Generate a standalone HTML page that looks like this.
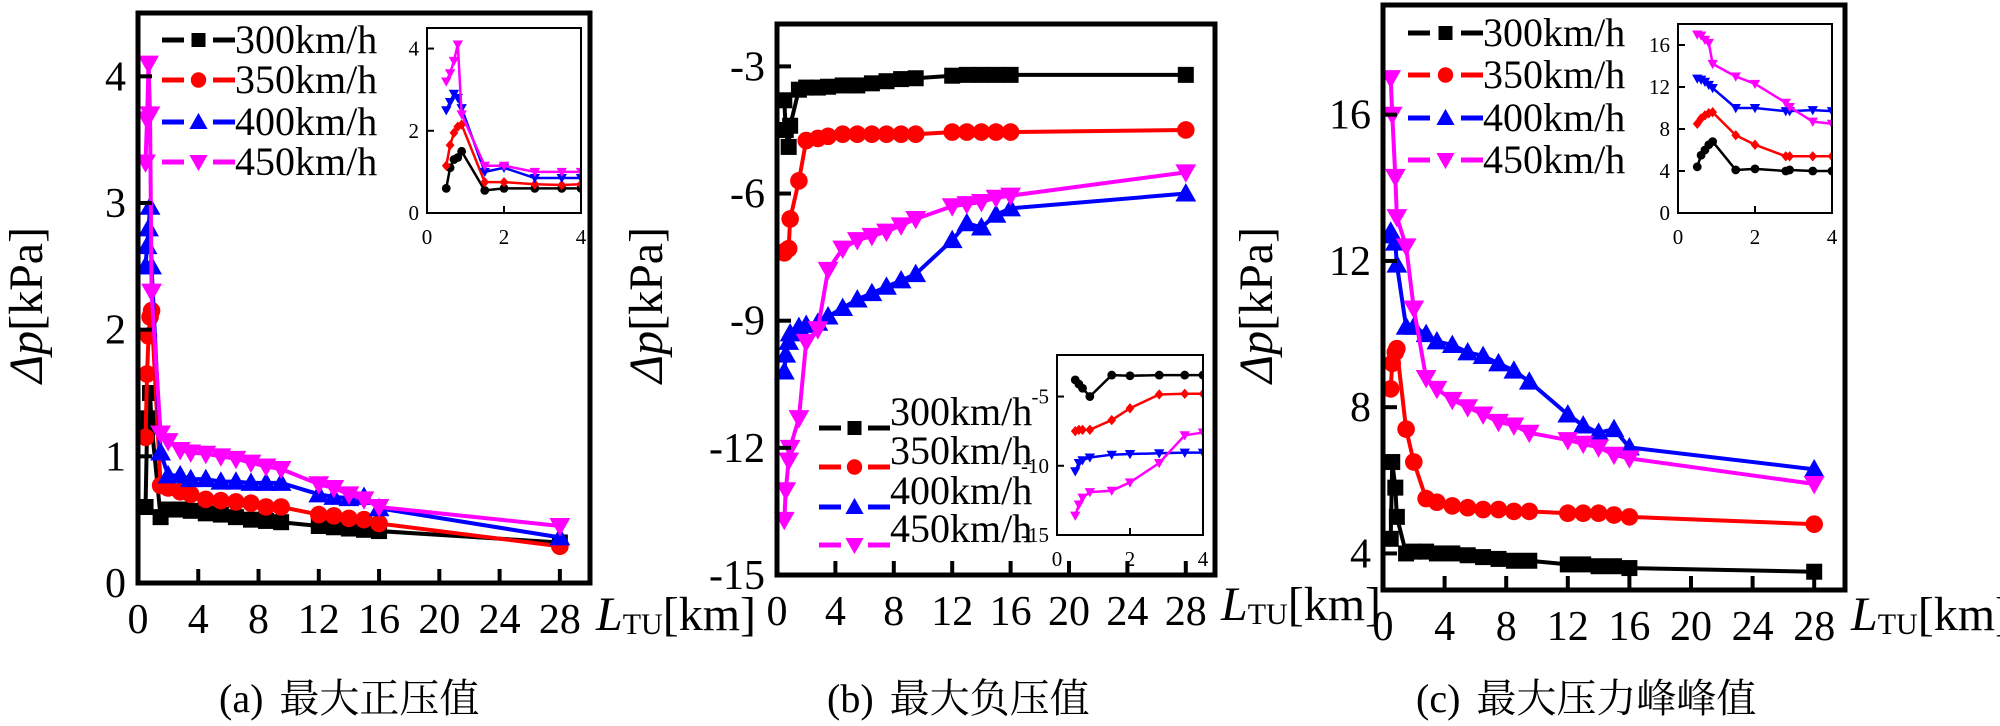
<!DOCTYPE html>
<html><head><meta charset="utf-8"><style>
html,body{margin:0;padding:0;background:#fff;}
svg{display:block;}
</style></head><body>
<svg id="fig" width="2000" height="726" viewBox="0 0 2000 726" xmlns="http://www.w3.org/2000/svg" style="font-family:'Liberation Serif','DejaVu Serif','Noto Serif CJK SC',serif;"></svg>
<script>
// ---------- data ----------
const seriesNames = ["300km/h","350km/h","400km/h","450km/h"];
// Panel (a) main
const xA = [0.5,0.6,0.7,0.8,0.9,1.5,2,2.8,3.5,4.5,5.5,6.5,7.5,8.5,9.5,12,13,14,15,16,28];
const a300 = [0.6,1.2,1.3,1.5,1.25,0.52,0.58,0.58,0.57,0.55,0.54,0.52,0.5,0.49,0.48,0.45,0.44,0.43,0.42,0.41,0.32];
const a350 = [1.15,1.65,1.95,2.1,2.15,0.77,0.75,0.72,0.7,0.66,0.65,0.64,0.63,0.6,0.6,0.54,0.53,0.51,0.5,0.47,0.29];
const a400 = [2.5,2.66,2.8,2.97,2.5,1.03,0.85,0.85,0.82,0.82,0.8,0.8,0.79,0.79,0.79,0.7,0.68,0.67,0.68,0.59,0.36];
const a450 = [3.32,3.66,4.1,3.7,2.3,1.18,1.12,1.05,1.03,1.02,1.0,0.98,0.95,0.92,0.9,0.78,0.75,0.7,0.66,0.6,0.45];
// Panel (a) inset
const xAi = [0.5,0.6,0.7,0.8,0.9,1.5,2,2.8,3.5,4];
const ai300 = [0.6,1.1,1.3,1.35,1.5,0.55,0.6,0.6,0.6,0.6];
const ai350 = [1.15,1.65,1.95,2.1,2.15,0.75,0.75,0.7,0.68,0.7];
const ai400 = [2.5,2.7,2.9,2.8,2.55,1.0,1.1,0.85,0.85,0.85];
const ai450 = [3.2,3.4,3.7,4.1,2.4,1.15,1.15,1.0,1.0,1.0];
// Panel (b) main
const xB = [0.5,0.6,0.8,0.9,1.5,2,2.8,3.5,4.5,5.5,6.5,7.5,8.5,9.5,12,13,14,15,16,28];
const b300 = [-3.8,-4.5,-4.9,-4.4,-3.55,-3.5,-3.5,-3.48,-3.45,-3.45,-3.4,-3.35,-3.3,-3.28,-3.22,-3.2,-3.2,-3.2,-3.2,-3.2];
const b350 = [-7.4,-7.35,-7.3,-6.6,-5.7,-4.75,-4.7,-4.65,-4.6,-4.6,-4.6,-4.6,-4.6,-4.6,-4.55,-4.55,-4.55,-4.55,-4.55,-4.5];
const b400 = [-10.2,-9.8,-9.5,-9.3,-9.15,-9.1,-9.05,-8.9,-8.7,-8.5,-8.35,-8.2,-8.05,-7.9,-7.1,-6.7,-6.8,-6.5,-6.35,-6.0];
const b450 = [-13.7,-13.0,-12.3,-12.0,-11.3,-9.5,-9.2,-7.8,-7.3,-7.1,-7.0,-6.9,-6.75,-6.6,-6.3,-6.25,-6.2,-6.1,-6.05,-5.5];
// Panel (b) inset
const xBi = [0.5,0.6,0.7,0.9,1.5,2,2.8,3.5,4];
const bi300 = [-3.8,-4.1,-4.4,-5.0,-3.45,-3.5,-3.45,-3.45,-3.45];
const bi350 = [-7.5,-7.4,-7.4,-7.4,-6.7,-5.85,-4.85,-4.8,-4.8];
const bi400 = [-10.4,-9.8,-9.6,-9.4,-9.2,-9.15,-9.1,-9.05,-9.05];
const bi450 = [-13.6,-12.8,-12.3,-11.9,-11.8,-11.2,-9.8,-7.8,-7.6];
// Panel (c) main
const xC = [0.5,0.6,0.8,0.9,1.5,2,2.8,3.5,4.5,5.5,6.5,7.5,8.5,9.5,12,13,14,15,16,28];
const c300 = [4.4,6.5,5.8,5.0,4.0,4.05,4.05,4.0,4.0,3.95,3.9,3.85,3.8,3.8,3.7,3.7,3.65,3.65,3.6,3.5];
const c350 = [8.5,9.2,9.5,9.6,7.4,6.5,5.5,5.4,5.3,5.25,5.2,5.2,5.15,5.15,5.1,5.1,5.1,5.05,5.0,4.8];
const c400 = [12.8,12.7,12.5,11.9,10.2,10.2,10.0,9.8,9.7,9.5,9.4,9.2,9.0,8.7,7.8,7.5,7.3,7.4,6.9,6.3];
const c450 = [17,16,14.3,13.2,12.4,10.7,8.8,8.5,8.2,8.0,7.8,7.6,7.5,7.3,7.1,7.0,6.9,6.7,6.6,5.9];
// Panel (c) inset
const xCi = [0.5,0.6,0.7,0.8,0.9,1.5,2,2.8,2.9,3.5,4];
const ci300 = [4.4,5.5,6.0,6.5,6.8,4.1,4.2,4.0,4.1,4.0,4.0];
const ci350 = [8.5,9.0,9.3,9.5,9.6,7.4,6.5,5.4,5.4,5.4,5.4];
const ci400 = [12.8,12.7,12.5,12.2,11.9,10.0,10.0,9.7,9.7,9.8,9.7];
const ci450 = [17,16.9,16.5,16.2,14.2,13.0,12.3,10.5,10.1,8.7,8.5];
// ticks
const xTicksMain = [0,4,8,12,16,20,24,28];
const yTicksA = [0,1,2,3,4];
const yTicksB = [-15,-12,-9,-6,-3];
const yTicksC = [4,8,12,16];
const inXTicks = [0,2,4];
const yTicksAi = [0,2,4];
const yTicksBi = [-5,-10,-15];
const yTicksCi = [0,4,8,12,16];

// ---------- drawing ----------
const NS="http://www.w3.org/2000/svg";
const FONT="'Liberation Serif','DejaVu Serif','Noto Serif CJK SC',serif";
const svg=document.getElementById('fig');
const colors=["#000000","#ff0000","#0000ff","#ff00ff"];
const markers=["square","circle","up","down"];
function mk(tag,attrs,parent){const e=document.createElementNS(NS,tag);for(const k in attrs)e.setAttribute(k,attrs[k]);(parent||svg).appendChild(e);return e;}
function marker(g,type,x,y,s,c){
  let e;
  if(type==="square"){e=mk('rect',{x:x-s,y:y-s,width:2*s,height:2*s,fill:c},g);}
  else if(type==="circle"){e=mk('circle',{cx:x,cy:y,r:s*1.1,fill:c},g);}
  else if(type==="diamond"){e=mk('polygon',{points:`${x},${y-s*1.3} ${x+s*1.1},${y} ${x},${y+s*1.3} ${x-s*1.1},${y}`,fill:c},g);}
  else if(type==="up"){e=mk('polygon',{points:`${x},${y-s*1.3} ${x+s*1.3},${y+s} ${x-s*1.3},${y+s}`,fill:c},g);}
  else {e=mk('polygon',{points:`${x},${y+s*1.3} ${x+s*1.3},${y-s} ${x-s*1.3},${y-s}`,fill:c},g);}
  
  
  return e;
}
function axes(L,R,T,B,x0,x1,y0,y1){
  return {sx:v=>L+(v-x0)/(x1-x0)*(R-L), sy:v=>B-(v-y0)/(y1-y0)*(B-T)};
}
function drawSeries(g,ax,xs,ys,i,ms,lw,mtype){
  const pts=xs.map((x,k)=>ax.sx(x)+','+ax.sy(ys[k])).join(' ');
  const pl=mk('polyline',{points:pts,fill:'none',stroke:colors[i],'stroke-width':lw,'stroke-linejoin':'round'},g);
  
  
  xs.forEach((x,k)=>marker(g,mtype||markers[i],ax.sx(x),ax.sy(ys[k]),ms,colors[i]));
}
function text(g,x,y,str,size,anchor,name){
  const t=mk('text',{x:x,y:y,'text-anchor':anchor||'start',fill:'#000'},g);
  t.style.fontFamily=FONT;
  t.style.fontSize=size+'px';
  t.textContent=str;
  
  
  return t;
}
function panel(cfg){
  const g=mk('g',{});
  
  
  const ax=axes(cfg.L,cfg.R,cfg.T,cfg.B,0,30,cfg.y0,cfg.y1);
  cfg.series.forEach((ys,i)=>drawSeries(g,ax,cfg.xs,ys,i,8,4));
  const fr=mk('rect',{x:cfg.L,y:cfg.T,width:cfg.R-cfg.L,height:cfg.B-cfg.T,fill:'none',stroke:'#000','stroke-width':5},g);
  
  
  xTicksMain.forEach(v=>{const x=ax.sx(v);mk('line',{x1:x,x2:x,y1:cfg.B,y2:cfg.B-14,stroke:'#000','stroke-width':4},g);
    text(g,x,cfg.B+50,String(v),42,'middle','x-tick-label');});
  cfg.yticks.forEach(v=>{const y=ax.sy(v);mk('line',{x1:cfg.L,x2:cfg.L+14,y1:y,y2:y,stroke:'#000','stroke-width':4},g);
    text(g,cfg.L-12,y+14,String(v),42,'end','y-tick-label');});
  const xt=text(g,cfg.R+6,cfg.xtY,'',48,'start','x-axis-title');
  xt.innerHTML='<tspan font-style="italic">L</tspan><tspan font-size="30" dy="4">TU</tspan><tspan dy="-4">[km]</tspan>';
  const yt=text(g,0,0,'',48,'middle','y-axis-title');
  yt.setAttribute('transform',`translate(${cfg.ytX},${cfg.ytY}) rotate(-90)`);
  yt.innerHTML='<tspan font-style="italic">Δp</tspan>[kPa]';
  const ig=mk('g',{},g);
  
  
  const I=cfg.inset;
  const iax=axes(I.L,I.R,I.T,I.B,0,4,I.y0,I.y1);
  const cp=mk('clipPath',{id:'clip'+cfg.id},ig);
  mk('rect',{x:I.L,y:I.T,width:I.R-I.L,height:I.B-I.T},cp);
  const ic=mk('g',{'clip-path':`url(#clip${cfg.id})`},ig);
  I.series.forEach((ys,i)=>drawSeries(ic,iax,I.xs,ys,i,4,2.5,I.markers[i]));
  const ifr=mk('rect',{x:I.L,y:I.T,width:I.R-I.L,height:I.B-I.T,fill:'none',stroke:'#000','stroke-width':2},ig);
  
  
  inXTicks.forEach(v=>{const x=iax.sx(v);mk('line',{x1:x,x2:x,y1:I.B,y2:I.B-7,stroke:'#000','stroke-width':2},ig);
    text(ig,x,I.B+31,String(v),21,'middle','inset-x-tick-label');});
  I.yticks.forEach(v=>{const y=iax.sy(v);mk('line',{x1:I.L,x2:I.L+7,y1:y,y2:y,stroke:'#000','stroke-width':2},ig);
    text(ig,I.L-8,y+7,String(v),21,'end','inset-y-tick-label');});
  const lg=mk('g',{},g);
  
  
  const Lg=cfg.legend;
  seriesNames.forEach((n,i)=>{
    const y=Lg.ys[i];
    const eg=mk('g',{},lg);
    
    
    mk('line',{x1:Lg.x1,x2:Lg.x1+22,y1:y,y2:y,stroke:colors[i],'stroke-width':5},eg);
    mk('line',{x1:Lg.x2-22,x2:Lg.x2,y1:y,y2:y,stroke:colors[i],'stroke-width':5},eg);
    marker(eg,markers[i],(Lg.x1+Lg.x2)/2,y,7,colors[i]);
    text(eg,Lg.x2,y+13+Lg.dy,n,40,'start','legend-label');
  });
  const cap=text(g,cfg.capX,712,'',40,'start','caption');
  cap.innerHTML=cfg.capLabel+'<tspan dx="16">'+cfg.capText+'</tspan>';
}
panel({id:'a',L:138,R:590,T:13,B:583,y0:0,y1:4.5,xs:xA,series:[a300,a350,a400,a450],yticks:yTicksA,
  xtY:630,ytX:42,ytY:305,
  inset:{L:427,R:581,T:28,B:213,y0:0,y1:4.5,xs:xAi,series:[ai300,ai350,ai400,ai450],yticks:yTicksAi,markers:["circle","diamond","down","down"]},
  legend:{x1:162,x2:235,ys:[40,80,122,162],dy:0},capX:219,capLabel:'(a)',capText:'最大正压值'});
panel({id:'b',L:777,R:1215,T:24,B:575,y0:-15,y1:-2,xs:xB,series:[b300,b350,b400,b450],yticks:yTicksB,
  xtY:620,ytX:662,ytY:305,
  inset:{L:1057,R:1203,T:355,B:535,y0:-15,y1:-2,xs:xBi,series:[bi300,bi350,bi400,bi450],yticks:yTicksBi,markers:["circle","diamond","down","down"]},
  legend:{x1:819,x2:890,ys:[428,467,507,545],dy:-16},capX:827,capLabel:'(b)',capText:'最大负压值'});
panel({id:'c',L:1383,R:1845,T:5,B:590,y0:3,y1:19,xs:xC,series:[c300,c350,c400,c450],yticks:yTicksC,
  xtY:630,ytX:1272,ytY:305,
  inset:{L:1678,R:1832,T:24,B:213,y0:0,y1:18,xs:xCi,series:[ci300,ci350,ci400,ci450],yticks:yTicksCi,markers:["circle","diamond","down","down"]},
  legend:{x1:1408,x2:1483,ys:[33,75,118,160],dy:0},capX:1416,capLabel:'(c)',capText:'最大压力峰峰值'});
</script>
</body></html>
